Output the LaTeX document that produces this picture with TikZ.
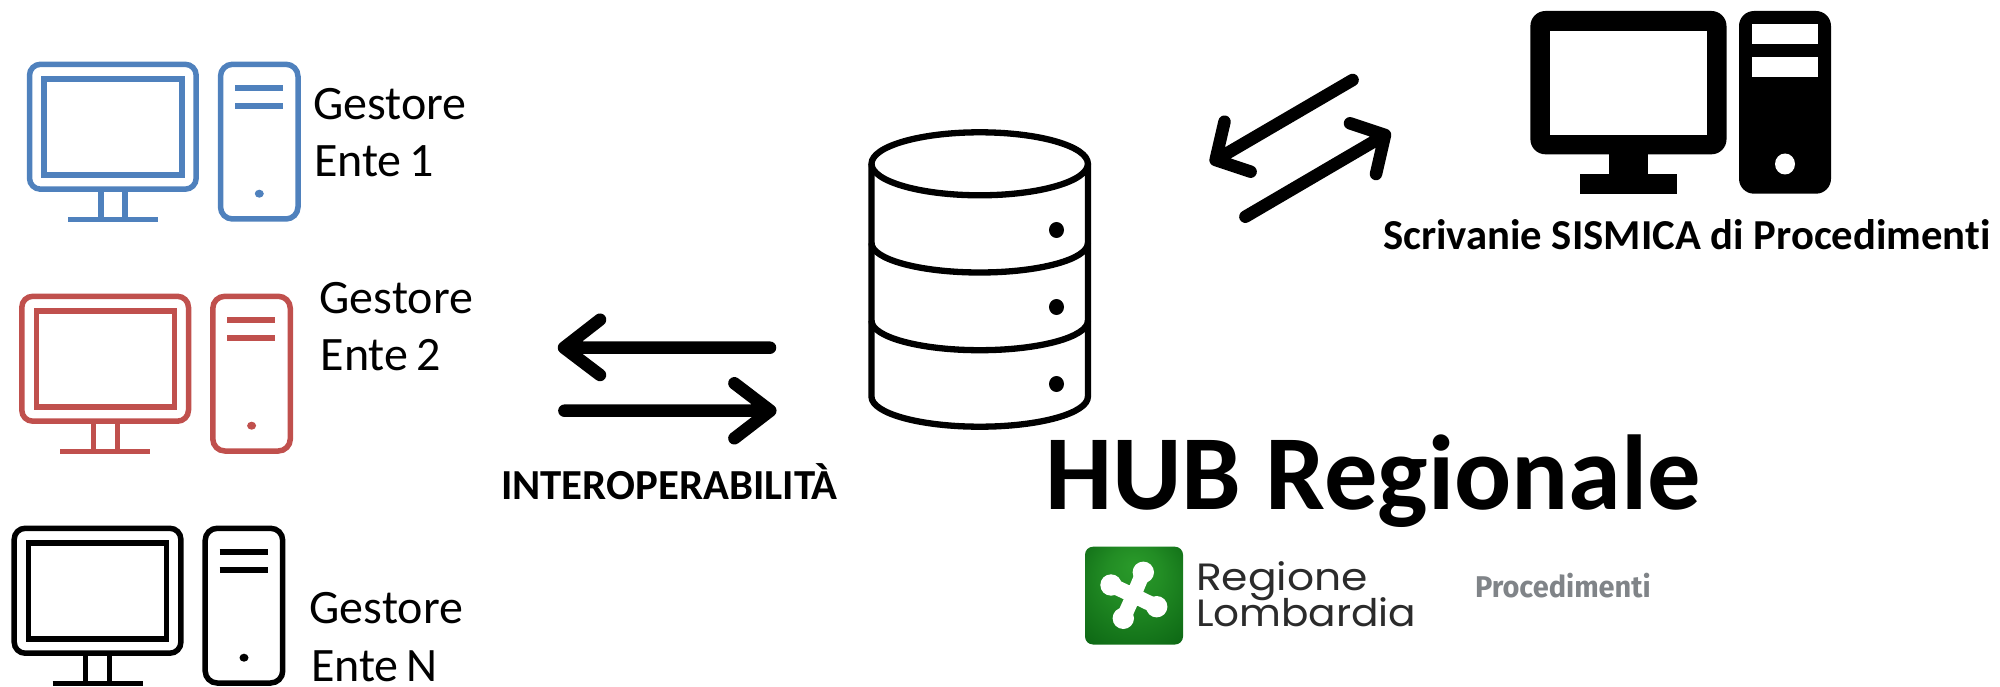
\documentclass[tikz,border=0pt]{standalone}
\usepackage{fontspec}
\setmainfont{Carlito}[Ligatures=NoCommon]
\newfontfamily\lblfont{Carlito}[WordSpace=0.75,Ligatures=NoCommon]
\newfontfamily\rlfont{Poppins}
\newfontfamily\procfont{Fira Sans}
\definecolor{entea}{HTML}{4F81BD}
\definecolor{enteb}{HTML}{C0504D}
\definecolor{logolight}{HTML}{2A9A2A}
\definecolor{logodark}{HTML}{0B6413}
\definecolor{rltext}{HTML}{2B2B2B}
\definecolor{proctext}{HTML}{808488}
\pgfdeclareradialshading{logoshade}{\pgfpoint{0bp}{16bp}}{color(0bp)=(logolight);color(14bp)=(logolight!75!logodark);color(40bp)=(logodark);color(50bp)=(logodark)}
\tikzset{
  pics/pcset/.style={code={
    \draw[line width=5.5pt,draw=#1,rounded corners=11pt] (29.5,64.3) rectangle (196.2,189.2);
    \draw[line width=5.5pt,draw=#1] (44,79) rectangle (182,175);
    \draw[line width=5.5pt,draw=#1] (101,189.2) -- (101,219.7) (125,189.2) -- (125,219.7) (68,219.7) -- (158,219.7);
    \draw[line width=5.5pt,draw=#1,rounded corners=12pt] (220.5,64.3) rectangle (298,219);
    \draw[line width=5.5pt,draw=#1] (235,88) -- (283,88) (235,106) -- (283,106);
    \fill[#1] (259.3,193.7) ellipse [x radius=4.5pt,y radius=4pt];
  }},
  lbl/.style={anchor=base west,inner sep=0pt,outer sep=0pt,font=\lblfont\fontsize{48}{48}\selectfont},
  boldlbl/.style={anchor=base west,inner sep=0pt,outer sep=0pt},
  bigarrow/.style={line width=12.5pt,line cap=round,line join=round},
  cyl/.style={line width=6.3pt,line join=round},
  lobe/.style={line width=15pt,white,line cap=round}
}
\begin{document}
\begin{tikzpicture}[x=1pt,y=-1pt]
\useasboundingbox (0,0) rectangle (2000,687);
% left computers
\pic at (0,0) {pcset=entea};
\pic at (-7.7,232) {pcset=enteb};
\pic at (-15.3,464) {pcset=black};
\node[lbl] (g1) at (313,120) {Gestore};
\node[lbl] (e1) at (314,176.7) {Ente 1};
\node[lbl] (g2) at (319.7,313) {Gestore};
\node[lbl] (e2) at (320.7,370) {Ente 2};
\node[lbl] (g3) at (309.7,623.5) {Gestore};
\node[lbl] (e3) at (311,681.5) {Ente N};
% arrows, left
\coordinate (la) at (770,347.7); \coordinate (lb) at (564,347.7);
\coordinate (lc) at (600,319.7); \coordinate (ld) at (600,375);
\draw[bigarrow] (la) -- (lb) (lc) -- (lb) -- (ld);
\coordinate (ra) at (564.4,410.7); \coordinate (rb) at (770.3,410.7);
\coordinate (rc) at (734.4,383.3); \coordinate (rd) at (734.4,438.3);
\draw[bigarrow] (ra) -- (rb) (rc) -- (rb) -- (rd);
\node[boldlbl,font=\fontsize{42.8}{43}\selectfont\bfseries] (inter) at (501,499.3) {INTEROPERABILITÀ};
% database
\draw[cyl] (871.5,163.8) -- (871.5,396.7) arc [start angle=180,end angle=360,x radius=108.2pt,y radius=30pt] -- (1088,163.8);
\draw[cyl] (979.7,163.8) ellipse [x radius=108.2pt,y radius=31.5pt];
\draw[cyl] (871.5,243) arc [start angle=180,end angle=360,x radius=108.2pt,y radius=29.5pt];
\draw[cyl] (871.5,320.7) arc [start angle=180,end angle=360,x radius=108.2pt,y radius=29.5pt];
\fill (1056.5,230) ellipse [x radius=7.5pt,y radius=8pt];
\fill (1056.5,307) ellipse [x radius=7.5pt,y radius=8pt];
\fill (1056.5,384) ellipse [x radius=7.5pt,y radius=8pt];
% arrows, upper right
\coordinate (ua) at (1352.6,80); \coordinate (ub) at (1215.6,160);
\coordinate (uc) at (1224.5,121.7); \coordinate (ud) at (1250.6,171.7);
\draw[bigarrow] (ua) -- (ub) (uc) -- (ub) -- (ud);
\coordinate (va) at (1245.4,216.7); \coordinate (vb) at (1385,135);
\coordinate (vc) at (1350,123.3); \coordinate (vd) at (1376,174);
\draw[bigarrow] (va) -- (vb) (vc) -- (vb) -- (vd);
% solid computer
\fill[rounded corners=15pt] (1530.4,11) rectangle (1726.5,154.3);
\fill[white] (1550,30.7) rectangle (1706.7,135);
\fill (1609,154) rectangle (1648,174);
\fill (1579.6,174) rectangle (1677.4,193.7);
\fill[rounded corners=15pt] (1739,11) rectangle (1831,193.7);
\fill[white] (1752,24) rectangle (1818,44);
\fill[white] (1752,56.7) rectangle (1818,76.7);
\fill[white] (1785,164) ellipse [x radius=10pt,y radius=10.5pt];
\node[boldlbl,font=\fontsize{42.7}{43}\selectfont\bfseries] (scr) at (1383,250) {Scrivanie SISMICA di Procedimenti};
% hub
\node[boldlbl,font=\fontsize{106.5}{106}\selectfont\bfseries] (hub) at (1045,509.3) {HUB Regionale};
% logo
\shade[shading=logoshade,rounded corners=8pt] (1085,546.7) rectangle (1183,644.5);
\coordinate (cc) at (1133.5,595.5);
\coordinate (ct) at (1143.3,572.3); \coordinate (cl) at (1111,585);
\coordinate (cr) at (1156.7,606.7); \coordinate (cb) at (1123.3,618.3);
\draw[lobe] (ct) -- (cc) -- (cb) (cl) -- (cc) -- (cr);
\fill[white] (ct) circle [radius=10.7pt] (cl) circle [radius=10.7pt] (cr) circle [radius=10.7pt] (cb) circle [radius=10.7pt];
\node[boldlbl,text=rltext,font=\rlfont\fontsize{38}{38}\selectfont] (rl1) at (1196,590) {\scalebox{1.117}[1]{Regione}};
\node[boldlbl,text=rltext,font=\rlfont\fontsize{38}{38}\selectfont] (rl2) at (1196,626.7) {\scalebox{1.069}[1]{Lombardia}};
\node[boldlbl,text=proctext,font=\procfont\fontsize{30}{30}\selectfont\bfseries] (proc) at (1475,597) {\scalebox{0.965}[1]{Procedimenti}};
\end{tikzpicture}
\end{document}
